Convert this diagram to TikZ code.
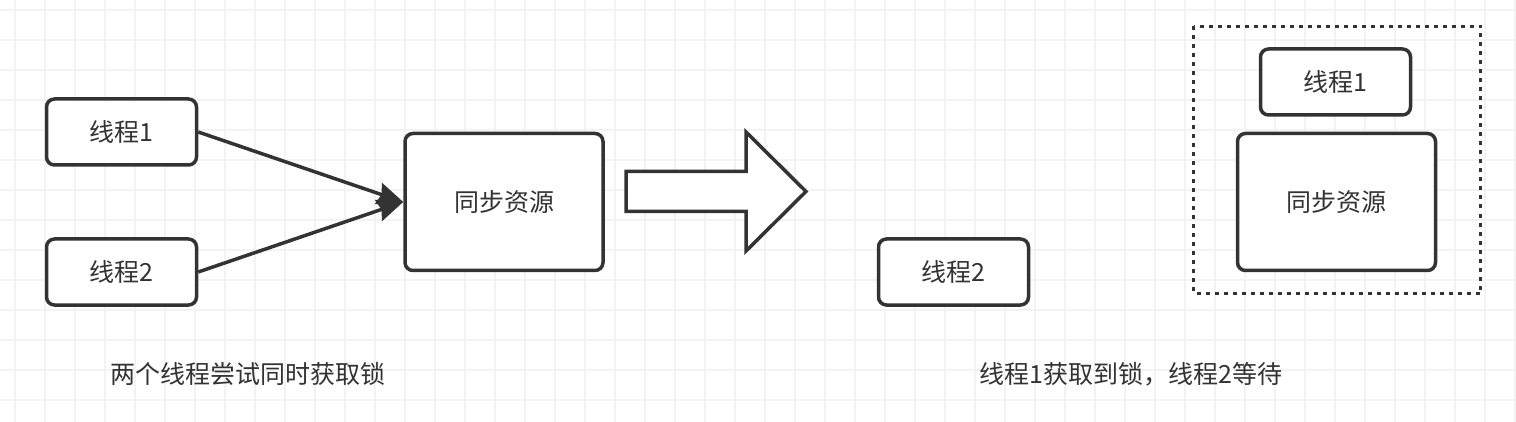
\documentclass[tikz,border=0pt]{standalone}
\usepackage{fontspec}
\setmainfont{Noto Sans CJK SC}
\usetikzlibrary{arrows.meta}
\definecolor{ink}{HTML}{333333}
\definecolor{gridc}{HTML}{F3F3F3}
\begin{document}
\begin{tikzpicture}[x=1pt,y=-1pt,
  box/.style={draw=ink, line width=3.5pt, rounded corners=8pt, fill=white, text=ink,
    font=\fontsize{25}{30}\selectfont, inner sep=0pt},
  thread/.style={box, minimum width=150pt, minimum height=66pt},
  res/.style={box, minimum width=198pt, minimum height=137pt},
  link/.style={draw=ink, line width=3.5pt, -{Stealth[length=26pt, width=22pt, inset=3pt]}},
  caption/.style={text=ink, font=\fontsize{25}{30}\selectfont, inner sep=0pt},
  gridline/.style={draw=gridc, line width=1.5pt}]
\useasboundingbox (0,0) rectangle (1516,422);
\fill[white] (0,0) rectangle (1516,422);
\foreach \x in {15,45,...,1515} \draw[gridline] (\x,0) -- (\x,422);
\foreach \y in {10,40,...,420} \draw[gridline] (0,\y) -- (1516,\y);

% left scene
\node[thread] (t1) at (121.5,132) {线程1};
\node[thread] (t2) at (121.5,272) {线程2};
\node[res] (r) at (504,202) {同步资源};
\draw[link] (t1.east) -- (r.west);
\draw[link] (t2.east) -- (r.west);
\node[caption] (c1) at (248,374) {两个线程尝试同时获取锁};

% block arrow
\coordinate (a1) at (626,171.5);
\coordinate (a2) at (746,171.5);
\coordinate (a3) at (746,132);
\coordinate (a4) at (806,191.5);
\coordinate (a5) at (746,251);
\coordinate (a6) at (746,211.5);
\coordinate (a7) at (626,211.5);
\draw[draw=ink, line width=3.5pt, fill=white, line join=miter]
  (a1) -- (a2) -- (a3) -- (a4) -- (a5) -- (a6) -- (a7) -- cycle;

% right scene
\node[thread] (u2) at (953.5,272) {线程2};
\draw[draw=ink, line width=3.5pt, dash pattern=on 4pt off 5pt]
  (1193.5,26.5) rectangle (1480.5,293.5);
\node[thread] (u1) at (1335.5,82) {线程1};
\node[res] (s) at (1336.5,202) {同步资源};
\node[caption] (c2) at (1131,374) {线程1获取到锁，线程2等待};
\end{tikzpicture}
\end{document}
